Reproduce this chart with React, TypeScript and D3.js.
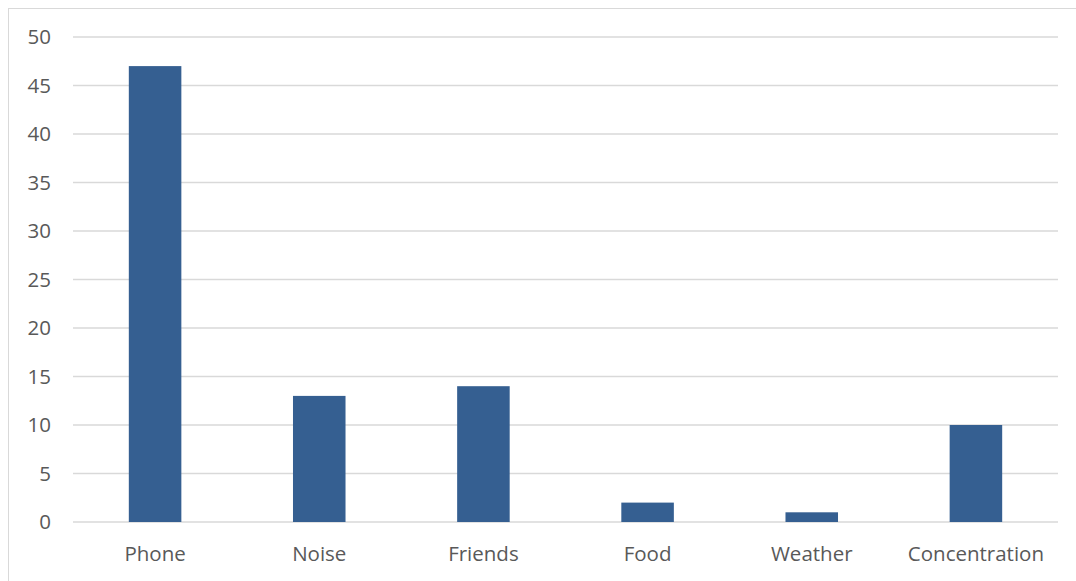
import React from "react";
import * as d3 from "d3";

const categories = ["Phone", "Noise", "Friends", "Food", "Weather", "Concentration"];
const values = [47, 13, 14, 2, 1, 10];
const yTicks = [0, 5, 10, 15, 20, 25, 30, 35, 40, 45, 50];

const W = 1076;
const H = 581;
const left = 73;
const right = 1058;
const top = 37;
const bottom = 522;

export default function App() {
  const x = d3.scaleBand<string>().domain(categories).range([left, right]).paddingInner(0.68).paddingOuter(0.34);
  const y = d3.scaleLinear().domain([0, 50]).range([bottom, top]);
  const font = "'Open Sans', 'Noto Sans', sans-serif";
  return (
    <svg width={W} height={H} style={{ position: "absolute", left: 0, top: 0, background: "#fff" }}>
      <rect x={8.5} y={8.5} width={W} height={H} fill="#fff" stroke="#d9d9d9" strokeWidth={1} />
      {yTicks.map((t) => (
        <g key={t}>
          <line x1={left} x2={right} y1={y(t)} y2={y(t)} stroke="#d9d9d9" strokeWidth={1.3} />
          <text x={51} y={y(t)} dy="0.35em" textAnchor="end" fontFamily={font} fontSize={20.5} fill="#595959">
            {t}
          </text>
        </g>
      ))}
      {categories.map((c, i) => (
        <rect key={c} x={x(c)} y={y(values[i])} width={x.bandwidth()} height={bottom - y(values[i])} fill="#355F91" />
      ))}
      {categories.map((c) => (
        <text key={c} x={(x(c) as number) + x.bandwidth() / 2} y={561} textAnchor="middle" fontFamily={font} fontSize={20.5} fill="#595959">
          {c}
        </text>
      ))}
    </svg>
  );
}
